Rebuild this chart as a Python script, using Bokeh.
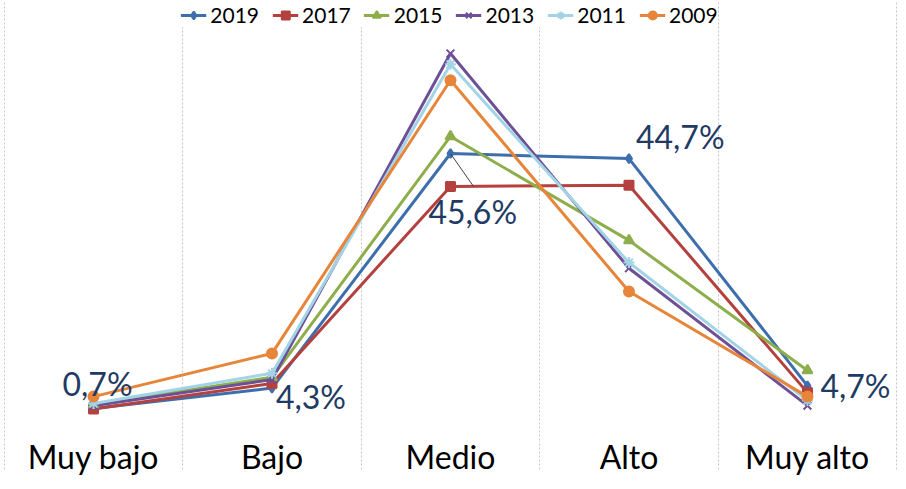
from bokeh.plotting import figure
from bokeh.models import Range1d, LinearAxis, FixedTicker, ColumnDataSource, Legend, Grid
from bokeh.core.properties import value
from bokeh.embed import file_html
from bokeh.resources import INLINE

categories = ["Muy bajo", "Bajo", "Medio", "Alto", "Muy alto"]
years = ["2019", "2017", "2015", "2013", "2011", "2009"]
v2019 = [0.7, 4.3, 45.6, 44.7, 4.7]
v2017 = [0.6, 5.1, 39.8, 40.0, 3.5]
v2015 = [1.4, 6.2, 48.6, 30.3, 7.4]
v2013 = [1.2, 5.8, 63.2, 25.4, 1.2]
v2011 = [1.6, 6.9, 61.3, 26.4, 2.1]
v2009 = [2.8, 10.4, 58.5, 21.3, 2.8]
series = [v2019, v2017, v2015, v2013, v2011, v2009]

colors = ["#3D6FAD", "#B4413E", "#8DAE4B", "#6D5096", "#A3D4E6", "#E7853A"]
markers = ["diamond", "square", "triangle", "x", "asterisk", "circle"]
msizes = [9, 9, 10, 11, 11, 10]

FONT = "Lato"
xs = list(range(len(categories)))
bounds = [i - 0.5 for i in range(len(categories) + 1)]

p = figure(width=906, height=489, output_backend="svg", toolbar_location=None,
           x_axis_type=None, y_axis_type=None,
           x_range=Range1d(-0.521, 4.510), y_range=Range1d(-4.93, 72.54),
           min_border_left=0, min_border_right=8, min_border_top=0, min_border_bottom=49)
p.outline_line_color = None
p.background_fill_color = "white"

xaxis = LinearAxis(ticker=FixedTicker(ticks=xs, minor_ticks=bounds))
xaxis.major_label_overrides = {i: c for i, c in enumerate(categories)}
xaxis.major_label_text_font = FONT
xaxis.major_label_text_font_size = "32px"
xaxis.major_label_text_color = "black"
xaxis.major_label_standoff = -33
xaxis.axis_line_color = None
xaxis.major_tick_line_color = None
xaxis.major_tick_out = 0
xaxis.major_tick_in = 0
xaxis.minor_tick_out = 29
xaxis.minor_tick_in = 0
xaxis.minor_tick_line_color = "#C6C6C6"
xaxis.minor_tick_line_dash = "2 2"
p.add_layout(xaxis, "below")

grid = Grid(dimension=0, ticker=FixedTicker(ticks=bounds),
            grid_line_color="#C6C6C6", grid_line_dash="2 2", grid_line_width=1)
p.add_layout(grid)

items = []
for yr, vals, col, mk, ms in zip(years, series, colors, markers, msizes):
    src = ColumnDataSource(dict(x=xs, y=vals))
    r1 = p.line("x", "y", source=src, line_color=col, line_width=3)
    r2 = p.scatter("x", "y", source=src, marker=mk, size=ms, fill_color=col, line_color=col, line_width=2)
    items.append((yr, [r1, r2]))

# leader line for 45,6% label
LEADER_DX, LEADER_DY = 0.129, -5.8
p.segment(x0=[2], y0=[v2019[2]], x1=[2 + LEADER_DX], y1=[v2019[2] + LEADER_DY],
          line_color="#404040", line_width=1)

# data labels for 2019
lab_text = [f"{v:.1f}".replace(".", ",") + "%" for v in v2019]
lab_dx = [-31, 4, -22, 7, 13]
lab_dy = [-25, 8, 58, -22, 0]
lsrc = ColumnDataSource(dict(x=xs, y=v2019, t=lab_text, dx=lab_dx, dy=lab_dy))
p.text("x", "y", text="t", source=lsrc, x_offset="dx", y_offset="dy",
       text_font=value(FONT), text_font_size="32px", text_color="#1F3B64",
       text_align="left", text_baseline="alphabetic")

legend = Legend(items=items, orientation="horizontal", location="top_center",
                label_text_font=FONT, label_text_font_size="21px", label_text_color="black",
                glyph_width=26, glyph_height=20, label_standoff=4, spacing=13,
                padding=0, margin=2, border_line_color=None,
                background_fill_color="white", background_fill_alpha=1.0)
p.add_layout(legend, "center")

open("out.html", "w").write(file_html(p, INLINE))
